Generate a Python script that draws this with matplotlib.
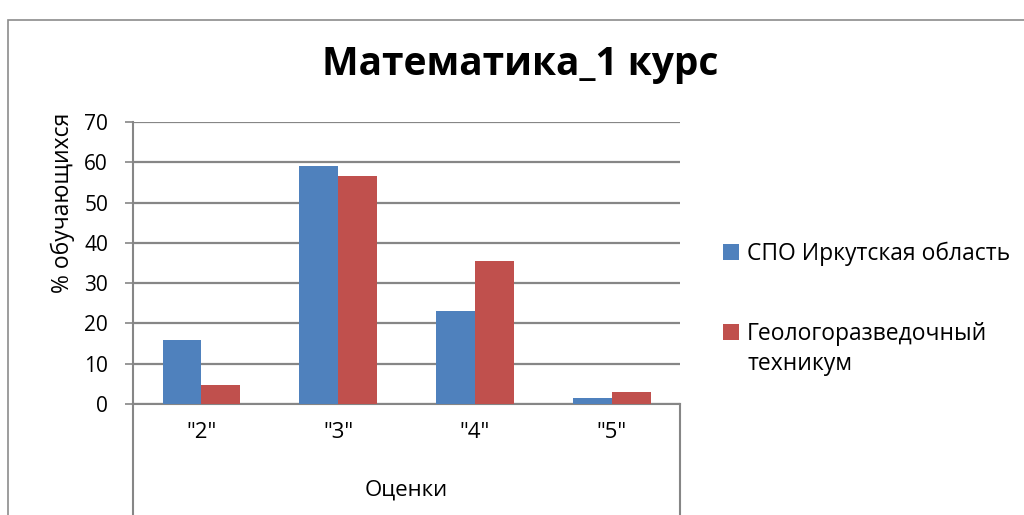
import matplotlib
matplotlib.use('Agg')
from matplotlib import pyplot as plt
from matplotlib.patches import Rectangle
import numpy as np

plt.rcParams['font.family'] = ['Open Sans', 'DejaVu Sans']

categories = ['"2"', '"3"', '"4"', '"5"']
irkutsk = [16.0, 59.1, 23.0, 1.6]
technikum = [4.6, 56.6, 35.6, 3.1]
series_names = ['СПО Иркутская область', 'Геологоразведочный']
second_line = 'техникум'
yticks = [0, 10, 20, 30, 40, 50, 60, 70]

blue = '#4F81BD'
red = '#C0504D'
grid_col = '#868686'

fig = plt.figure(figsize=(10.24, 5.15), dpi=100)
ax = fig.add_axes([0.130, 0.2155, 0.534, 0.5475])

x = np.arange(len(categories))
w = 0.285
ax.bar(x - w / 2, irkutsk, w, color=blue, label=series_names[0], zorder=3)
ax.bar(x + w / 2, technikum, w, color=red, label=series_names[1], zorder=3)

ax.set_xlim(-0.5, len(categories) - 0.5)
ax.set_ylim(0, 70)
ax.set_yticks(yticks)
ax.yaxis.grid(True, color=grid_col, linewidth=1.6, zorder=0)
ax.set_axisbelow(True)

ax.set_xticks(x)
ax.set_xticklabels(categories, fontsize=16)
ax.tick_params(axis='x', length=0, pad=13)
ax.tick_params(axis='y', labelsize=15, length=6, width=1.2, color=grid_col, pad=12, direction='out')

for s in ['top', 'right']:
    ax.spines[s].set_visible(False)
for s in ['left', 'bottom']:
    ax.spines[s].set_color(grid_col)
    ax.spines[s].set_linewidth(1.5)

# multi-level category box lines below the axis
for xa in [0, 1]:
    ax.plot([xa, xa], [0, -0.42], transform=ax.transAxes, color=grid_col,
            linewidth=1.5, clip_on=False)
ax.text(0.5, -0.305, 'Оценки', transform=ax.transAxes, ha='center', va='center', fontsize=16)

fig.text(0.061, 1 - 203 / 515, '% обучающихся', rotation=90, ha='center', va='center', fontsize=16.5)
fig.text(0.508, 1 - 65 / 515, 'Математика_1 курс', ha='center', va='center', fontsize=28, fontweight='bold')

leg = ax.legend(loc='upper left', bbox_to_anchor=(1.062, 0.61), frameon=False, fontsize=16.5,
                handlelength=0.7, handleheight=0.7, handletextpad=0.35, labelspacing=2.45,
                borderaxespad=0)

# wrapped second line of the legend label
fig.canvas.draw()
tb = leg.get_texts()[1].get_window_extent().transformed(fig.transFigure.inverted())
fig.text(tb.x0, tb.y0 - 0.012, second_line, ha='left', va='top', fontsize=16.5)

# chart border
fig.patches.append(Rectangle((8 / 1024, -0.1), 1.2, 1 - 20 / 515 + 0.1, transform=fig.transFigure,
                             fill=False, edgecolor='#8c8c8c', linewidth=1.2))

fig.savefig('out.png', dpi=100)
